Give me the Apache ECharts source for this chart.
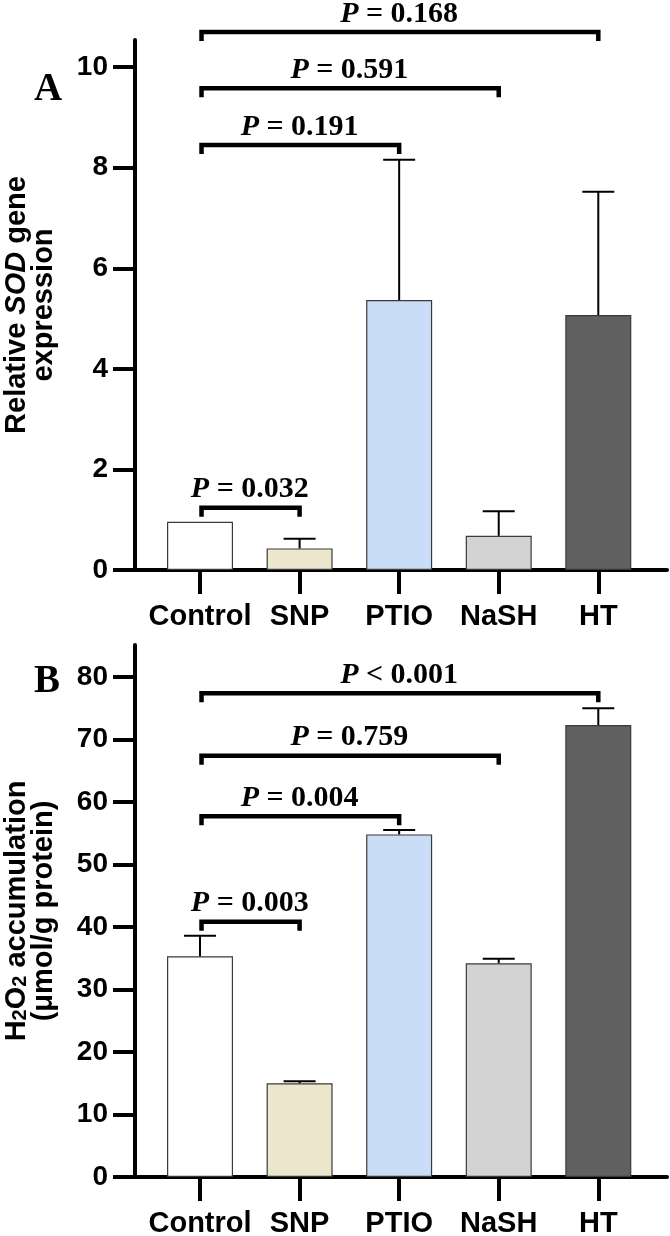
<html>
<head>
<meta http-equiv="Content-Type" content="text/html; charset=utf-8" />
<title>SOD / H2O2</title>
<style>
	html, body { margin: 0; padding: 0; background: #fff; }
	#main { width: 670px; height: 1236px; }
</style>
</head>
<body>
	<div id="main"></div>
	<script src="https://cdn.jsdelivr.net/npm/echarts@6/dist/echarts.min.js"></script>
	<script type="text/javascript">
		// 数据
		var categories = ['Control', 'SNP', 'PTIO', 'NaSH', 'HT'];
		var sodMean = [0.96, 0.43, 5.37, 0.68, 5.07];
		var sodErr = [0, 0.19, 2.79, 0.49, 2.45];
		var h2o2Mean = [35.3, 15.0, 54.8, 34.2, 72.3];
		var h2o2Err = [3.3, 0.3, 0.7, 0.7, 2.7];
		var sodTicks = [0, 2, 4, 6, 8, 10];
		var h2o2Ticks = [0, 10, 20, 30, 40, 50, 60, 70, 80];
		// 显著性标注: [起点组, 终点组, 高度]
		var sodBrackets = [[0, 1, 1.24], [0, 2, 8.45], [0, 3, 9.58], [0, 4, 10.70]];
		var sodPText = ['P = 0.032', 'P = 0.191', 'P = 0.591', 'P = 0.168'];
		var h2o2Brackets = [[0, 1, 40.85], [0, 2, 57.7], [0, 3, 67.4], [0, 4, 77.4]];
		var h2o2PText = ['P = 0.003', 'P = 0.004', 'P = 0.759', 'P < 0.001'];

		var barColors = ['#ffffff', '#ece6cc', '#c9def6', '#d3d3d3', '#606060'];
		var sans = 'Liberation Sans, Arial, sans-serif';
		var serif = 'Liberation Serif, Times New Roman, serif';
		var catIdx = [0, 1, 2, 3, 4];

		function barData(vals){
			var out = [];
			for (var i = 0; i < vals.length; i++){
				out.push({ value: [i, vals[i]], itemStyle: { color: barColors[i] } });
			}
			return out;
		}

		function errData(vals, errs){
			var out = [];
			for (var i = 0; i < vals.length; i++){
				out.push([i, vals[i], errs[i]]);
			}
			return out;
		}

		function xAxisOf(gi){
			return {
				type: 'value', gridIndex: gi, min: -0.653, max: 4.69,
				axisLine: { show: true, onZero: false, lineStyle: { color: '#000', width: 4 } },
				axisTick: { show: true, length: 24, lineStyle: { color: '#000', width: 4 }, customValues: catIdx },
				axisLabel: {
					customValues: catIdx, margin: 32,
					fontFamily: sans, fontWeight: 'bold', fontSize: 29, color: '#000',
					formatter: function(v){ return categories[Math.round(v)]; }
				},
				splitLine: { show: false }
			};
		}

		function yAxisOf(gi, max, ticks, name, rich, gap){
			return {
				type: 'value', gridIndex: gi, min: 0, max: max,
				name: name, nameLocation: 'middle', nameRotate: 90, nameGap: gap,
				nameTextStyle: { fontFamily: sans, fontWeight: 'bold', fontSize: 29, color: '#000', lineHeight: 27, rich: rich },
				axisLine: { show: true, onZero: false, lineStyle: { color: '#000', width: 4 } },
				axisTick: { show: true, length: 22, lineStyle: { color: '#000', width: 4 }, customValues: ticks },
				axisLabel: { customValues: ticks, margin: 27, fontFamily: sans, fontWeight: 'bold', fontSize: 28, color: '#000' },
				splitLine: { show: false }
			};
		}

		function errSeries(gi, vals, errs){
			return {
				type: 'custom', xAxisIndex: gi, yAxisIndex: gi, clip: false, z: 3,
				data: errData(vals, errs),
				renderItem: function(params, api){
					var x = api.value(0), v = api.value(1), e = api.value(2);
					if (e <= 0) return;
					var p0 = api.coord([x, v]);
					var p1 = api.coord([x, v + e]);
					return {
						type: 'group',
						children: [
							{ type: 'line', shape: { x1: p0[0], y1: p0[1], x2: p1[0], y2: p1[1] }, style: { stroke: '#000', lineWidth: 2 } },
							{ type: 'line', shape: { x1: p1[0] - 16, y1: p1[1], x2: p1[0] + 16, y2: p1[1] }, style: { stroke: '#000', lineWidth: 2 } }
						]
					};
				}
			};
		}

		function bracketSeries(gi, brackets, texts){
			return {
				type: 'custom', xAxisIndex: gi, yAxisIndex: gi, clip: false, z: 4,
				data: brackets,
				renderItem: function(params, api){
					var a = api.coord([api.value(0), api.value(2)]);
					var b = api.coord([api.value(1), api.value(2)]);
					var t = texts[params.dataIndex];
					return {
						type: 'group',
						children: [
							{
								type: 'polyline',
								shape: { points: [[a[0] + 1.5, a[1] + 9], [a[0] + 1.5, a[1]], [b[0], b[1]], [b[0], b[1] + 9]] },
								style: { stroke: '#000', lineWidth: 4.5, fill: null, lineJoin: 'miter' }
							},
							{
								type: 'text', x: (a[0] + b[0]) / 2, y: a[1] - 18,
								style: {
									text: '{i|P}{n|' + t.substring(1) + '}',
									align: 'center', verticalAlign: 'middle',
									rich: {
										i: { fontFamily: serif, fontStyle: 'italic', fontWeight: 'bold', fontSize: 30, fill: '#000' },
										n: { fontFamily: serif, fontWeight: 'bold', fontSize: 30, fill: '#000' }
									}
								}
							}
						]
					};
				}
			};
		}

		var richA = {
			a: { fontFamily: sans, fontWeight: 'bold', fontSize: 29, lineHeight: 27, color: '#000' },
			i: { fontFamily: sans, fontWeight: 'bold', fontStyle: 'italic', fontSize: 29, lineHeight: 27, color: '#000' }
		};
		var richB = {
			a: { fontFamily: sans, fontWeight: 'bold', fontSize: 29, lineHeight: 27, color: '#000' },
			s: { fontFamily: sans, fontWeight: 'bold', fontSize: 20, lineHeight: 16, verticalAlign: 'bottom', color: '#000' }
		};

		var myChart = echarts.init(document.getElementById('main'));
		var option = {
			animation: false,
			backgroundColor: '#fff',
			title: [
				{ text: 'A', left: 34, top: 70, padding: 0, textStyle: { fontFamily: serif, fontWeight: 'bold', fontSize: 39, color: '#000' } },
				{ text: 'B', left: 34, top: 662, padding: 0, textStyle: { fontFamily: serif, fontWeight: 'bold', fontSize: 39, color: '#000' } }
			],
			grid: [
				{ left: 135, right: 3, top: 40, height: 530, containLabel: false, outerBoundsMode: 'none' },
				{ left: 135, right: 3, top: 645, height: 532, containLabel: false, outerBoundsMode: 'none' }
			],
			xAxis: [xAxisOf(0), xAxisOf(1)],
			yAxis: [
				yAxisOf(0, 10.54, sodTicks, '{a|Relative }{i|SOD}{a| gene}\n{a|expression}', richA, 78),
				yAxisOf(1, 85.1, h2o2Ticks, '{a|H}{s|2}{a|O}{s|2}{a| accumulation}\n{a|(μmol/g protein)}', richB, 78)
			],
			series: [
				{
					type: 'bar', xAxisIndex: 0, yAxisIndex: 0, barWidth: 66, z: 2,
					itemStyle: { borderColor: '#3a3a3a', borderWidth: 1.2 },
					data: barData(sodMean)
				},
				{
					type: 'bar', xAxisIndex: 1, yAxisIndex: 1, barWidth: 66, z: 2,
					itemStyle: { borderColor: '#3a3a3a', borderWidth: 1.2 },
					data: barData(h2o2Mean)
				},
				errSeries(0, sodMean, sodErr),
				errSeries(1, h2o2Mean, h2o2Err),
				bracketSeries(0, sodBrackets, sodPText),
				bracketSeries(1, h2o2Brackets, h2o2PText)
			]
		};
		myChart.setOption(option);
	</script>
</body>
</html>
